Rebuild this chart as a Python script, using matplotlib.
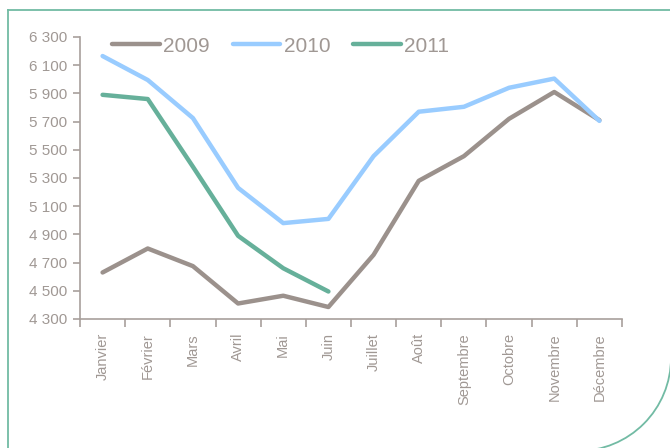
import matplotlib.pyplot as plt
from matplotlib.lines import Line2D
from matplotlib.patches import Arc

months = ['Janvier', 'Février', 'Mars', 'Avril', 'Mai', 'Juin', 'Juillet',
          'Août', 'Septembre', 'Octobre', 'Novembre', 'Décembre']
y2009 = [4630, 4800, 4675, 4410, 4465, 4385, 4755, 5280, 5455, 5720, 5910, 5710]
y2010 = [6165, 5995, 5725, 5230, 4980, 5010, 5455, 5770, 5805, 5940, 6005, 5705]
y2011 = [5890, 5860, 5380, 4890, 4660, 4495]
yticks = [4300, 4500, 4700, 4900, 5100, 5300, 5500, 5700, 5900, 6100, 6300]

plt.rcParams['font.family'] = ['Liberation Sans', 'DejaVu Sans']
txt = '#a09894'
axc = '#a8a09c'

W, H = 670, 448
fig = plt.figure(figsize=(W / 100, H / 100), dpi=100)
ax = fig.add_axes([80 / W, 1 - 319 / H, 542 / W, 282 / H])

x = list(range(len(months)))
ax.plot(x, y2009, color='#9b918c', lw=3.2, label='2009', solid_capstyle='round')
ax.plot(x, y2010, color='#99ccff', lw=3.2, label='2010', solid_capstyle='round')
ax.plot(x[:len(y2011)], y2011, color='#66b09a', lw=3.2, label='2011', solid_capstyle='round')

ax.set_xlim(-0.5, len(months) - 0.5)
ax.set_ylim(4300, 6300)
ax.set_yticks(yticks)
ax.set_yticklabels([f'{v:,}'.replace(',', ' ') for v in yticks])
ax.set_xticks(x)
ax.set_xticklabels(months, rotation=90)
ax.set_xticks([i - 0.5 for i in range(len(months) + 1)], minor=True)
ax.tick_params(axis='x', which='major', length=0, pad=10, labelsize=10.5, labelcolor=txt)
ax.tick_params(axis='x', which='minor', length=6, color=axc, width=1.2)
ax.tick_params(axis='y', length=5, color=axc, width=1.2, labelsize=11, labelcolor=txt, pad=4)
for s in ['top', 'right']:
    ax.spines[s].set_visible(False)
for s in ['left', 'bottom']:
    ax.spines[s].set_color(axc)
    ax.spines[s].set_linewidth(1.2)

ax.legend(loc='center left', ncol=3, frameon=False, fontsize=15,
          bbox_to_anchor=(0.059, 0.968), borderaxespad=0, borderpad=0,
          handlelength=2.3, columnspacing=1.1, handletextpad=0.15, labelcolor=txt)

# frame around the chart
bc = '#72bba4'
fx = lambda px: px / W
fy = lambda py: 1 - py / H
fig.add_artist(Line2D([fx(8), fx(8)], [fy(460), fy(10)], color=bc, lw=1.3, transform=fig.transFigure))
fig.add_artist(Line2D([fx(8), fx(680)], [fy(10), fy(10)], color=bc, lw=1.3, transform=fig.transFigure))
r = 93
fig.add_artist(Arc((fx(578), fy(358)), 2 * r / W, 2 * r / H, theta1=270, theta2=360,
                   color=bc, lw=1.3, transform=fig.transFigure))

fig.savefig('out.png', dpi=100)
